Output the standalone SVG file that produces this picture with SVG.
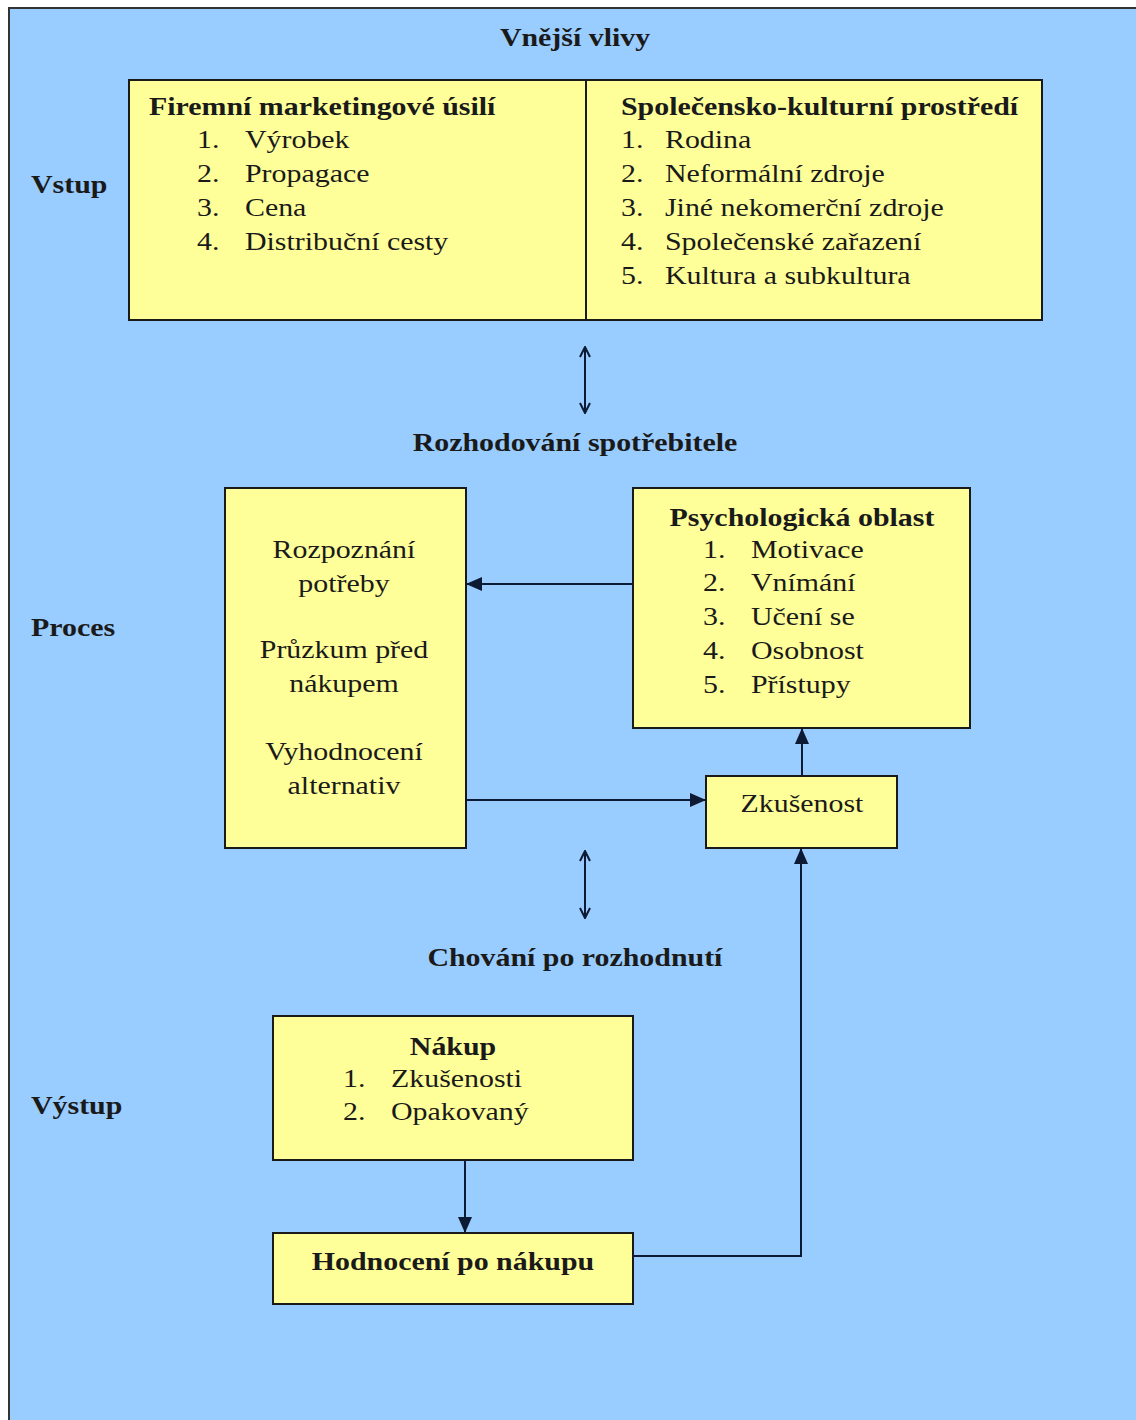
<svg xmlns="http://www.w3.org/2000/svg" width="1136" height="1420" viewBox="0 0 1136 1420">
<defs>
<style>
text{font-family:'Liberation Serif','Times New Roman','DejaVu Serif',serif;font-size:26px;fill:#1a1a1a;transform-box:fill-box;transform-origin:left center;transform:scaleX(1.15)}
.b{font-weight:bold}
.c{text-anchor:middle;transform-origin:center center}
.box{fill:#FFFF99;stroke:#1a1a1a;stroke-width:2}
.ln{fill:none;stroke:#0d1a33;stroke-width:2}
</style>
<marker id="ah" viewBox="0 0 12 12" refX="11" refY="6" markerWidth="12" markerHeight="12" markerUnits="userSpaceOnUse" orient="auto-start-reverse"><path d="M1,1 L11,6 L1,11" fill="none" stroke="#0d1a33" stroke-width="2"/></marker>
<marker id="ahb" viewBox="0 0 16 14" refX="15" refY="7" markerWidth="16" markerHeight="14" markerUnits="userSpaceOnUse" orient="auto-start-reverse"><path d="M0,0 L16,7 L0,14 z" fill="#0d1a33"/></marker>
</defs>
<rect x="0" y="0" width="1136" height="1420" fill="#ffffff"/>
<rect x="9" y="8" width="1140" height="1420" fill="#99CCFF" stroke="#333" stroke-width="2"/>
<g font-family="Liberation Serif, serif">
<text class="b c" x="575" y="46">Vnější vlivy</text>
<text class="b" x="31" y="193">Vstup</text>
<text class="b" x="31" y="636">Proces</text>
<text class="b" x="31" y="1114">Výstup</text>
<text class="b c" x="575" y="451">Rozhodování spotřebitele</text>
<text class="b c" x="575" y="966">Chování po rozhodnutí</text>
<g id="vstup">
<rect class="box" x="129" y="80" width="913" height="240"/>
<line x1="586" y1="80" x2="586" y2="320" stroke="#1a1a1a" stroke-width="2"/>
<text class="b" x="149" y="115">Firemní marketingové úsilí</text>
<text x="197" y="148">1.</text><text x="245" y="148">Výrobek</text>
<text x="197" y="182">2.</text><text x="245" y="182">Propagace</text>
<text x="197" y="216">3.</text><text x="245" y="216">Cena</text>
<text x="197" y="250">4.</text><text x="245" y="250">Distribuční cesty</text>
<text class="b" x="621" y="115">Společensko-kulturní prostředí</text>
<text x="621" y="148">1.</text><text x="665" y="148">Rodina</text>
<text x="621" y="182">2.</text><text x="665" y="182">Neformální zdroje</text>
<text x="621" y="216">3.</text><text x="665" y="216">Jiné nekomerční zdroje</text>
<text x="621" y="250">4.</text><text x="665" y="250">Společenské zařazení</text>
<text x="621" y="284">5.</text><text x="665" y="284">Kultura a subkultura</text>
</g>
<g id="proces">
<rect class="box" x="225" y="488" width="241" height="360"/>
<text class="c" x="344" y="558">Rozpoznání</text>
<text class="c" x="344" y="592">potřeby</text>
<text class="c" x="344" y="658">Průzkum před</text>
<text class="c" x="344" y="692">nákupem</text>
<text class="c" x="344" y="760">Vyhodnocení</text>
<text class="c" x="344" y="794">alternativ</text>
</g>
<g id="psychologicka">
<rect class="box" x="633" y="488" width="337" height="240"/>
<text class="b c" x="802" y="526">Psychologická oblast</text>
<text x="703" y="558">1.</text><text x="751" y="558">Motivace</text>
<text x="703" y="591">2.</text><text x="751" y="591">Vnímání</text>
<text x="703" y="625">3.</text><text x="751" y="625">Učení se</text>
<text x="703" y="659">4.</text><text x="751" y="659">Osobnost</text>
<text x="703" y="693">5.</text><text x="751" y="693">Přístupy</text>
</g>
<g id="zkusenost">
<rect class="box" x="706" y="776" width="191" height="72"/>
<text class="c" x="802" y="812">Zkušenost</text>
</g>
<g id="nakup">
<rect class="box" x="273" y="1016" width="360" height="144"/>
<text class="b c" x="453" y="1055">Nákup</text>
<text x="343" y="1087">1.</text><text x="391" y="1087">Zkušenosti</text>
<text x="343" y="1120">2.</text><text x="391" y="1120">Opakovaný</text>
</g>
<g id="hodnoceni">
<rect class="box" x="273" y="1233" width="360" height="71"/>
<text class="b c" x="453" y="1270">Hodnocení po nákupu</text>
</g>
</g>
<g id="connectors">
<line class="ln" x1="585" y1="347" x2="585" y2="413" marker-start="url(#ah)" marker-end="url(#ah)"/>
<line class="ln" x1="585" y1="851" x2="585" y2="918" marker-start="url(#ah)" marker-end="url(#ah)"/>
<line class="ln" x1="633" y1="584" x2="467" y2="584" marker-end="url(#ahb)"/>
<line class="ln" x1="466" y1="800" x2="705" y2="800" marker-end="url(#ahb)"/>
<line class="ln" x1="802" y1="776" x2="802" y2="729" marker-end="url(#ahb)"/>
<line class="ln" x1="465" y1="1160" x2="465" y2="1232" marker-end="url(#ahb)"/>
<polyline class="ln" points="633,1256 801,1256 801,849" marker-end="url(#ahb)"/>
</g>
</svg>
